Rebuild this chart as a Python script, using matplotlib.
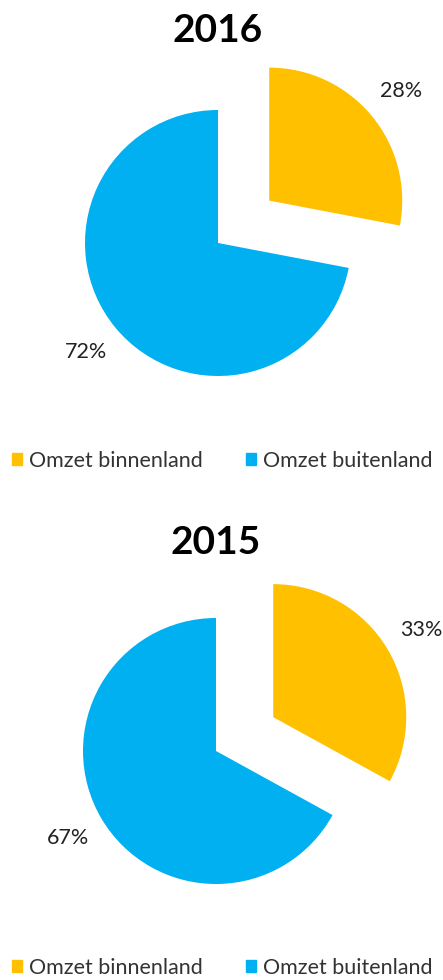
import matplotlib.pyplot as plt
from matplotlib.patches import Patch

years = ['2016', '2015']
categories = ['Omzet binnenland', 'Omzet buitenland']
shares_2016 = [28, 72]
shares_2015 = [33, 67]
colors = ['#FFC000', '#00B0F0']

plt.rcParams['font.family'] = ['Lato', 'DejaVu Sans']

W, H = 443, 980
fig = plt.figure(figsize=(W / 100, H / 100), dpi=100)

R = 133.0  # pie radius in px
side = 400.0


def draw_pie(cx, cy, values, title, title_y, legend_y):
    ax = fig.add_axes([(cx - side / 2) / W, 1 - (cy + side / 2) / H, side / W, side / H])
    lim = side / 2 / R
    ax.pie(values, colors=colors, startangle=90, counterclock=False,
           explode=[0.5, 0], autopct='%1.0f%%', pctdistance=1.29,
           textprops={'fontsize': 15.5, 'color': '#222222'})
    ax.set_xlim(-lim, lim)
    ax.set_ylim(-lim, lim)
    ax.set_aspect('equal')
    ax.axis('off')
    fig.text(cx / W, 1 - title_y / H, title, ha='center', va='center',
             fontsize=28, fontweight='bold')
    handles = [Patch(color=c) for c in colors]
    fig.legend(handles, categories, loc='center', ncol=2, frameon=False,
               bbox_to_anchor=(222 / W, 1 - legend_y / H), fontsize=15.5,
               handlelength=0.5, handleheight=0.5, handletextpad=0.3,
               columnspacing=2.0, labelcolor='#333333')


draw_pie(218, 243, shares_2016, years[0], 31, 461)
draw_pie(216, 751, shares_2015, years[1], 543, 968)

fig.savefig('out.png', dpi=100)
